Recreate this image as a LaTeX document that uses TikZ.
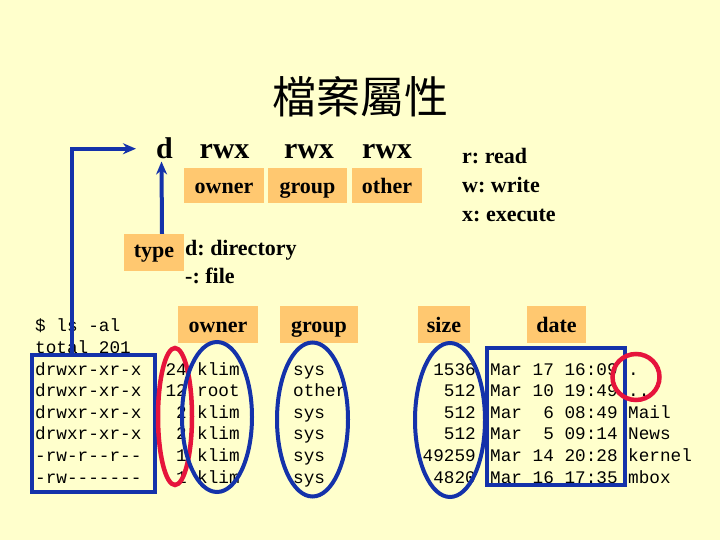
\documentclass[tikz,border=0pt]{standalone}
\usepackage{fontspec}
\setmainfont{Liberation Serif}
\setmonofont{Liberation Mono}
\newfontfamily\cjk{Noto Sans CJK TC}
\usetikzlibrary{arrows.meta,shapes.geometric}
\definecolor{bgyellow}{HTML}{FFFFCC}
\definecolor{boxorange}{HTML}{FFC870}
\definecolor{lineblue}{HTML}{1432AA}
\definecolor{markred}{HTML}{E6143C}
\frenchspacing
\tikzset{
  lbl/.style={inner sep=0pt, font=\fontsize{22}{24}\selectfont\bfseries},
  big/.style={inner sep=0pt, font=\fontsize{30}{32}\selectfont\bfseries},
  obox/.style={fill=boxorange, inner sep=0pt, text height=17pt, text depth=1pt,
    font=\fontsize{22}{24}\selectfont\bfseries},
  mono/.style={inner sep=0pt, font=\fontsize{17.7}{21.7}\selectfont\ttfamily},
  bluering/.style={ellipse, draw=lineblue, line width=4pt, inner sep=0pt},
  redring/.style={ellipse, draw=markred, line width=4.5pt, inner sep=0pt},
  conn/.style={draw=lineblue, line width=4pt, -{Stealth[length=13pt,width=11pt]}}
}
\begin{document}
\begin{tikzpicture}[x=1pt,y=-1pt]
\fill[bgyellow] (0,0) rectangle (720,540);
\useasboundingbox (0,0) rectangle (720,540);
% title
\node[inner sep=0pt, font=\fontsize{44}{48}\selectfont\cjk] (title) at (360,97) {檔案屬性};
% permission string
\node[big, anchor=base] (d) at (164.5,159) {d};
\node[big, anchor=base] (rwx1) at (224.5,159) {rwx};
\node[big, anchor=base] (rwx2) at (309,159) {rwx};
\node[big, anchor=base] (rwx3) at (387,159) {rwx};
\node[obox, minimum width=80pt, minimum height=35pt] (ownbox) at (224,185.5) {owner};
\node[obox, minimum width=79pt, minimum height=35pt] (grpbox) at (307.5,185.5) {group};
\node[obox, minimum width=70pt, minimum height=35pt] (othbox) at (387,185.5) {other};
% legend
\node[lbl, anchor=base west] (lr) at (462,164) {r: read};
\node[lbl, anchor=base west] (lw) at (462,193) {w: write};
\node[lbl, anchor=base west] (lx) at (462,222) {x: execute};
% type
\node[obox, text height=14pt, text depth=3pt, minimum width=60pt, minimum height=37pt] (typebox) at (154,252.5) {type};
\node[lbl, anchor=base west] (tdir) at (185,255) {d: directory};
\node[lbl, anchor=base west] (tfile) at (185,283) {-: file};
% column headers
\node[obox, minimum width=80pt, minimum height=37pt] (hown) at (218,324.5) {owner};
\node[obox, minimum width=78pt, minimum height=37pt] (hgrp) at (319,324.5) {group};
\node[obox, minimum width=52pt, minimum height=37pt] (hsize) at (444,324.5) {size};
\node[obox, minimum width=59pt, minimum height=37pt] (hdate) at (556.5,324.5) {date};
% listing
\node[mono, anchor=base west] (cmd) at (35,331) {\$ ls -al};
\node[mono, anchor=base west] (total) at (35,353) {total 201};
\foreach \p/\l/\o/\g/\s/\dt/\n [count=\i] in {
  drwxr-xr-x/24/klim/sys/1536/Mar 17 16:09/.,
  drwxr-xr-x/12/root/other/512/Mar 10 19:49/..,
  drwxr-xr-x/2/klim/sys/512/Mar~~6 08:49/Mail,
  drwxr-xr-x/2/klim/sys/512/Mar~~5 09:14/News,
  -rw-r--r--/1/klim/sys/49259/Mar 14 20:28/kernel,
  -rw-------/1/klim/sys/4820/Mar 16 17:35/mbox}{
  \pgfmathsetmacro\yb{375+21.6*(\i-1)}
  \node[mono, anchor=base west] (perm\i) at (35,\yb) {\p};
  \node[mono, anchor=base east] (link\i) at (187,\yb) {\l};
  \node[mono, anchor=base west] (own\i) at (197,\yb) {\o};
  \node[mono, anchor=base west] (grp\i) at (293,\yb) {\g};
  \node[mono, anchor=base east] (size\i) at (476,\yb) {\s};
  \node[mono, anchor=base west] (date\i) at (490,\yb) {\dt};
  \node[mono, anchor=base west] (name\i) at (628,\yb) {\n};
}
% marks
\node[draw=lineblue, line width=4pt, inner sep=0pt, minimum width=123pt, minimum height=137pt] (lsbox) at (93.5,423.5) {};
\node[draw=lineblue, line width=4pt, inner sep=0pt, minimum width=138pt, minimum height=137pt] (datebox) at (556,416.5) {};
\node[redring, minimum width=34pt, minimum height=137pt] (linkring) at (175,416.5) {};
\node[bluering, minimum width=70pt, minimum height=150pt] (ownring) at (217,417) {};
\node[bluering, minimum width=71pt, minimum height=154pt] (grpring) at (312.5,419.5) {};
\node[bluering, minimum width=70pt, minimum height=154pt] (sizering) at (450,420) {};
\node[redring, minimum width=47pt, minimum height=46pt] (namering) at (636,377) {};
% connectors
\coordinate (turn) at (72,150);
\draw[conn, shorten >=20pt] (lsbox.north -| turn) |- (d.west);
\draw[conn] ([xshift=8pt]typebox.north) -- ([xshift=-3pt,yshift=-2pt]d.south);
\end{tikzpicture}
\end{document}
